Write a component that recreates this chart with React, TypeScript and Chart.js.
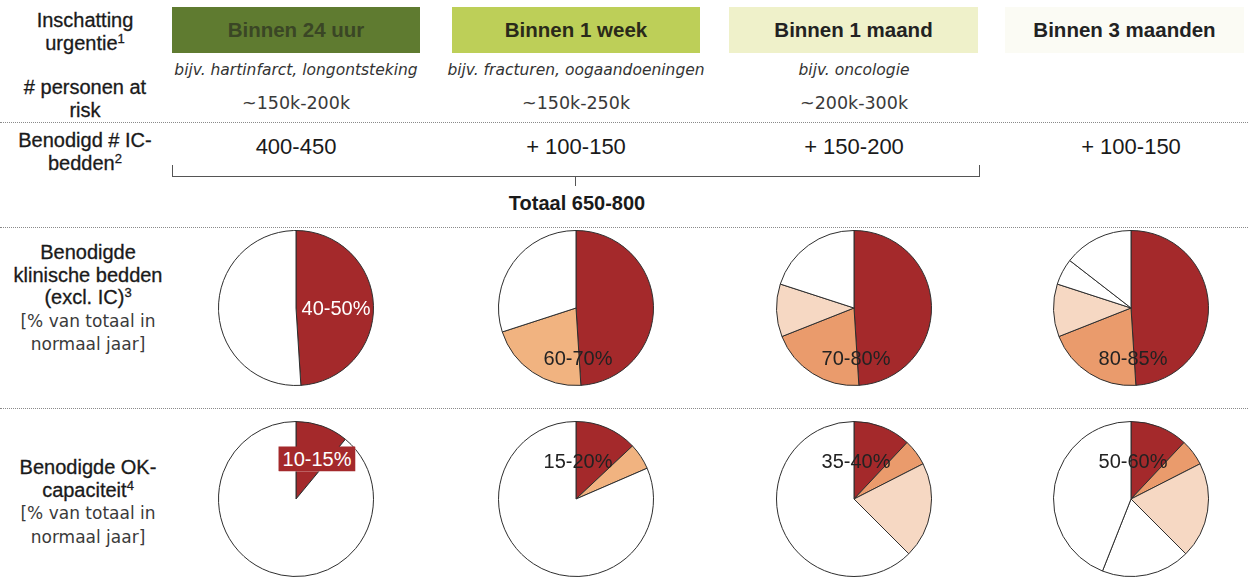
import React, { useEffect, useRef } from "react";
import { Chart, registerables } from "chart.js";

Chart.register(...registerables);

// ---------- data ----------
const urgencyCategories = ["Binnen 24 uur", "Binnen 1 week", "Binnen 1 maand", "Binnen 3 maanden"];
const examples = ["bijv. hartinfarct, longontsteking", "bijv. fracturen, oogaandoeningen", "bijv. oncologie", ""];
const personsAtRisk = ["~150k-200k", "~150k-250k", "~200k-300k", ""];
const icBeds = ["400-450", "+ 100-150", "+ 150-200", "+ 100-150"];
const totalIcBeds = "Totaal 650-800";

// Benodigde klinische bedden (excl. IC), % of a normal year, per urgency column
const clinicalAcute = [49, 49, 49, 49];
const clinicalWeek = [0, 21, 20, 20];
const clinicalMonth = [0, 0, 11, 11];
const clinicalQuarter = [0, 0, 0, 5.5];
const clinicalRest = [51, 30, 20, 14.5];
const clinicalLabels = ["40-50%", "60-70%", "70-80%", "80-85%"];

// Benodigde OK-capaciteit, % of a normal year, per urgency column
const surgeryAcute = [11, 13, 12, 12];
const surgeryWeek = [0, 5.5, 5.5, 5.5];
const surgeryMonth = [0, 0, 20, 20];
const surgeryQuarter = [0, 0, 0, 18.5];
const surgeryRest = [89, 81.5, 62.5, 44];
const surgeryLabels = ["10-15%", "15-20%", "35-40%", "50-60%"];

const segmentNames = ["24 uur", "1 week", "1 maand", "3 maanden", "overig"];

// ---------- style ----------
const headerColors = ["#5f7b30", "#bdcf58", "#eff1ca", "#fbfbf4"];
const headerTextColors = ["#3a4625", "#2a2a1a", "#222", "#222"];
const weekColors = ["#eb9c6d", "#f1b380", "#ea9b6c", "#ea9b6c"];
const RED = "#a4292b";
const PEACH = "#f6d8c3";
const colX = [296, 576, 854, 1131];
const headerBoxes = [
  [172, 420],
  [452, 700],
  [729, 978],
  [1005, 1244],
];
const BODY_FONT = "'Liberation Sans', Arial, sans-serif";
const WIDE_FONT = "'DejaVu Sans', Verdana, sans-serif";

type PieProps = { values: number[]; colors: string[]; cx: number; cy: number; size: number };

function PieChart({ values, colors, cx, cy, size }: PieProps) {
  const ref = useRef<HTMLCanvasElement | null>(null);
  useEffect(() => {
    if (!ref.current) return;
    const data: number[] = [];
    const bg: string[] = [];
    const labels: string[] = [];
    values.forEach((v, i) => {
      if (v > 0) {
        data.push(v);
        bg.push(colors[i]);
        labels.push(segmentNames[i]);
      }
    });
    const chart = new Chart(ref.current, {
      type: "pie",
      data: {
        labels,
        datasets: [
          {
            data,
            backgroundColor: bg,
            borderColor: "#2e2e2e",
            borderWidth: 1,
          },
        ],
      },
      options: {
        animation: false,
        responsive: false,
        events: [],
        layout: { padding: 0 },
        plugins: { legend: { display: false }, tooltip: { enabled: false } },
      },
    });
    return () => chart.destroy();
  }, []);
  return (
    <canvas
      ref={ref}
      width={size}
      height={size}
      style={{ position: "absolute", left: cx - size / 2, top: cy - size / 2, width: size, height: size }}
    />
  );
}

function T({
  x,
  y,
  children,
  style,
}: {
  x: number;
  y: number;
  children: React.ReactNode;
  style?: React.CSSProperties;
}) {
  return (
    <div
      style={{
        position: "absolute",
        left: x,
        top: y,
        transform: "translate(-50%, -50%)",
        whiteSpace: "nowrap",
        textAlign: "center",
        ...style,
      }}
    >
      {children}
    </div>
  );
}

function LeftLabel({ top, lines, style }: { top: number; lines: React.ReactNode[]; style?: React.CSSProperties }) {
  return (
    <div
      style={{
        position: "absolute",
        left: 0,
        width: 170,
        top,
        textAlign: "center",
        fontFamily: BODY_FONT,
        fontSize: 20,
        lineHeight: "22.6px",
        color: "#1a1a1a",
        WebkitTextStroke: "0.3px #1a1a1a",
        ...style,
      }}
    >
      {lines.map((l, i) => (
        <div key={i}>{l}</div>
      ))}
    </div>
  );
}

const sup: React.CSSProperties = { fontSize: 13, verticalAlign: "7px", lineHeight: 0 };
const note: React.CSSProperties = {
  fontFamily: WIDE_FONT,
  fontSize: 17,
  color: "#3a3a3a",
  WebkitTextStroke: "0px",
};

function Dotted({ y }: { y: number }) {
  return (
    <div style={{ position: "absolute", left: 0, width: 1248, top: y, borderTop: "1px dotted #8a8a8a" }} />
  );
}

export default function App() {
  const clinical = urgencyCategories.map((_, i) => [
    clinicalAcute[i],
    clinicalWeek[i],
    clinicalMonth[i],
    clinicalQuarter[i],
    clinicalRest[i],
  ]);
  const surgery = urgencyCategories.map((_, i) => [
    surgeryAcute[i],
    surgeryWeek[i],
    surgeryMonth[i],
    surgeryQuarter[i],
    surgeryRest[i],
  ]);
  const pieColors = (i: number) => [RED, weekColors[i], PEACH, "#ffffff", "#ffffff"];
  const PIE = 156;
  const row1Y = 308;
  const row2Y = 499;

  return (
    <div style={{ position: "relative", width: 1248, height: 577, background: "#ffffff", overflow: "hidden" }}>
      <style>{`body{margin:0;background:#fff}`}</style>

      {/* header boxes */}
      {urgencyCategories.map((c, i) => (
        <div
          key={c}
          style={{
            position: "absolute",
            left: headerBoxes[i][0],
            width: headerBoxes[i][1] - headerBoxes[i][0],
            top: 7,
            height: 46,
            background: headerColors[i],
            display: "flex",
            alignItems: "center",
            justifyContent: "center",
            fontFamily: BODY_FONT,
            fontWeight: "bold",
            fontSize: 20.5,
            color: headerTextColors[i],
          }}
        >
          {c}
        </div>
      ))}

      {/* left labels */}
      <LeftLabel top={9} lines={["Inschatting", <span>urgentie<sup style={sup}>1</sup></span>]} />
      <LeftLabel top={76} lines={["# personen at", "risk"]} />
      <LeftLabel top={129} lines={["Benodigd # IC-", <span>bedden<sup style={sup}>2</sup></span>]} />
      <LeftLabel
        top={241}
        style={{ width: 176 }}
        lines={[
          "Benodigde",
          "klinische bedden",
          <span>(excl. IC)<sup style={sup}>3</sup></span>,
          <span style={note}>[% van totaal in</span>,
          <span style={note}>normaal jaar]</span>,
        ]}
      />
      <LeftLabel
        top={456}
        style={{ width: 176 }}
        lines={[
          "Benodigde OK-",
          <span>capaciteit<sup style={sup}>4</sup></span>,
          <span style={note}>[% van totaal in</span>,
          <span style={note}>normaal jaar]</span>,
        ]}
      />

      {/* examples row */}
      {examples.map((e, i) =>
        e ? (
          <T key={"ex" + i} x={colX[i]} y={70} style={{ fontFamily: WIDE_FONT, fontStyle: "italic", fontSize: 15.5, color: "#333" }}>
            {e}
          </T>
        ) : null
      )}

      {/* persons at risk */}
      {personsAtRisk.map((p, i) =>
        p ? (
          <T key={"p" + i} x={colX[i]} y={103} style={{ fontFamily: WIDE_FONT, fontSize: 17.5, color: "#3a3a3a" }}>
            {p}
          </T>
        ) : null
      )}

      <Dotted y={122} />

      {/* IC beds */}
      {icBeds.map((b, i) => (
        <T key={"ic" + i} x={colX[i]} y={147} style={{ fontFamily: BODY_FONT, fontSize: 22, color: "#1a1a1a" }}>
          {b}
        </T>
      ))}

      {/* bracket */}
      <div
        style={{
          position: "absolute",
          left: 172,
          top: 165,
          width: 806,
          height: 11,
          borderLeft: "1px solid #555",
          borderRight: "1px solid #555",
          borderBottom: "1px solid #555",
        }}
      />
      <div style={{ position: "absolute", left: 575, top: 177, width: 0, height: 9, borderLeft: "1px solid #555" }} />
      <T x={577} y={203} style={{ fontFamily: BODY_FONT, fontWeight: "bold", fontSize: 20, color: "#1a1a1a" }}>
        {totalIcBeds}
      </T>

      <Dotted y={227} />
      <Dotted y={408} />

      {/* pies */}
      {clinical.map((v, i) => (
        <PieChart key={"c" + i} values={v} colors={pieColors(i)} cx={colX[i]} cy={row1Y} size={PIE} />
      ))}
      {surgery.map((v, i) => (
        <PieChart key={"s" + i} values={v} colors={pieColors(i)} cx={colX[i]} cy={row2Y} size={PIE} />
      ))}

      {/* pie labels */}
      <T x={336} y={308} style={{ fontFamily: BODY_FONT, fontSize: 20, color: "#ffffff" }}>
        {clinicalLabels[0]}
      </T>
      {[1, 2, 3].map((i) => (
        <T key={"cl" + i} x={colX[i] + 2} y={358} style={{ fontFamily: BODY_FONT, fontSize: 20, color: "#222" }}>
          {clinicalLabels[i]}
        </T>
      ))}
      <T
        x={317}
        y={459}
        style={{ fontFamily: BODY_FONT, fontSize: 20, color: "#ffffff", background: RED, padding: "1px 4px" }}
      >
        {surgeryLabels[0]}
      </T>
      {[1, 2, 3].map((i) => (
        <T key={"sl" + i} x={colX[i] + 2} y={461} style={{ fontFamily: BODY_FONT, fontSize: 20, color: "#222" }}>
          {surgeryLabels[i]}
        </T>
      ))}
    </div>
  );
}
